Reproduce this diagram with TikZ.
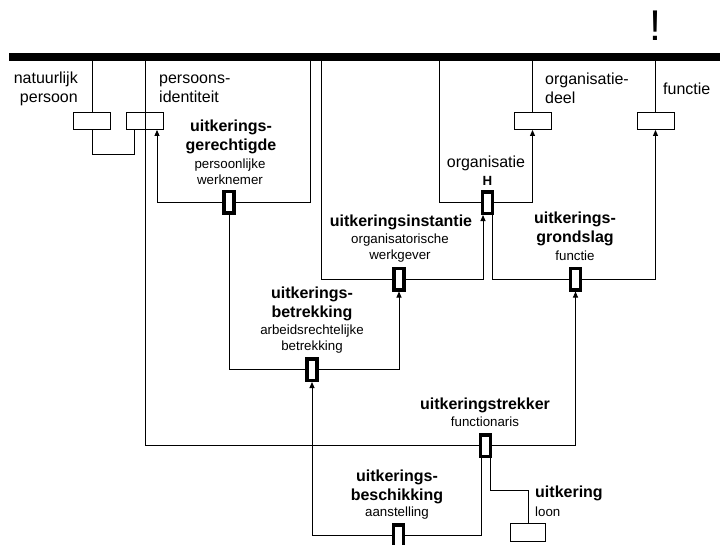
\documentclass[tikz,border=0pt]{standalone}
\usepackage{fontspec}
\setmainfont{Liberation Sans}
\usetikzlibrary{arrows.meta,backgrounds}
\begin{document}
\begin{tikzpicture}[x=1pt,y=-1pt,
  link/.style={line width=0.9pt},
  tolink/.style={link,-{Triangle[length=6pt,width=5pt]}},
  objbox/.style={draw,line width=0.9pt,minimum width=37pt,minimum height=17pt,inner sep=0},
  relbox/.style={draw,fill=white,line width=3.5pt,minimum width=9.8pt,minimum height=21.5pt,inner sep=0},
  lbl/.style={font=\fontsize{16}{19}\selectfont,inner sep=0},
  ttl/.style={font=\fontsize{16}{19}\selectfont\bfseries,align=center,inner sep=0},
  sub/.style={font=\fontsize{13.3}{15.7}\selectfont,align=center,inner sep=0}]
\useasboundingbox (0,0) rectangle (720,544);

% the thick bar at the top
\node[fill=black,inner sep=0,minimum width=711pt,minimum height=8pt,anchor=north west] (bar) at (9,53) {};

% object boxes
\node[objbox] (np) at (92,121) {};
\node[objbox] (pi) at (145,121) {};
\node[objbox] (od) at (532.5,121) {};
\node[objbox] (fu) at (655.5,121) {};
\node[objbox,minimum width=35pt,minimum height=18pt] (lo) at (528,532.5) {};

% relation boxes
\node[relbox] (ger) at (229,202) {};
\node[relbox] (org) at (487.5,202.5) {};
\node[relbox] (ins) at (399,279) {};
\node[relbox] (gro) at (575.5,279) {};
\node[relbox] (bet) at (312,369.5) {};
\node[relbox] (tre) at (485.5,445.5) {};
\node[relbox] (bes) at (398.5,535.5) {};

% corner points of the connectors
\coordinate (gR) at (310,202);
\coordinate (gL) at (157,202);
\coordinate (iL) at (321,279);
\coordinate (oL) at (439,202.5);

\begin{scope}[on background layer]
  % natuurlijk persoon
  \draw[link] (np |- bar.south) -- (np.north);
  \draw[link] (np.south) -- ++(0,24) -| ([xshift=-11pt]pi.south);
  % persoons-identiteit, running on to uitkeringsgrondslag
  \draw[tolink] (pi |- bar.south) -- (pi |- tre) -- (gro |- tre) -- (gro.south);
  % uitkeringsgerechtigde
  \draw[tolink] (gR |- bar.south) -- (gR) -- (gL) -- (gL |- pi.south);
  \draw[tolink] (ger.south) -- (ger |- bet) -- (ins |- bet) -- (ins.south);
  % uitkeringsinstantie
  \draw[tolink] (iL |- bar.south) -- (iL) -- ([xshift=-4.5pt]org.south |- ins) -- ([xshift=-4.5pt]org.south);
  % organisatie
  \draw[tolink] (oL |- bar.south) -- (oL) -- (od |- org) -- (od.south);
  \draw[link] (od |- bar.south) -- (od.north);
  % uitkeringsgrondslag
  \draw[tolink] ([xshift=4.5pt]org.south) -- ([xshift=4.5pt]org.south |- gro) -- (fu |- gro) -- (fu.south);
  \draw[link] (fu |- bar.south) -- (fu.north);
  % uitkeringsbeschikking
  \draw[tolink] ([xshift=-4.5pt]tre.south) -- ([xshift=-4.5pt]tre.south |- bes) -- (bet |- bes) -- (bet.south);
  % uitkering
  \draw[link] ([xshift=5pt]tre.south) -- ++(0,32) -| (lo.north);
\end{scope}

% labels
\node[lbl,align=right,anchor=east] (tNP) at (78,88.5) {natuurlijk\\persoon};
\node[lbl,align=left,anchor=west] (tPI) at (159,88.5) {persoons-\\identiteit};
\node[lbl,align=left,anchor=west] (tOD) at (545,88.5) {organisatie-\\deel};
\node[lbl,anchor=west] (tFU) at (663,89) {functie};
\node[font=\fontsize{43}{43}\selectfont,inner sep=0] (mark) at (655.5,25.5) {!};

\node[lbl] (tORG) at (486,163) {organisatie};
\node[font=\fontsize{13.3}{15.7}\selectfont\bfseries,inner sep=0] (tH) at (487.5,180.5) {H};

\node[ttl] (tGer) at (231,136.5) {uitkerings-\\gerechtigde};
\node[sub] (sGer) at (230,171.5) {persoonlijke\\werknemer};

\node[ttl] (tIns) at (401,222) {uitkeringsinstantie};
\node[sub] (sIns) at (400,248) {organisatorische\\werkgever};

\node[ttl] (tBet) at (312,304) {uitkerings-\\betrekking};
\node[sub] (sBet) at (312,339) {arbeidsrechtelijke\\betrekking};

\node[ttl] (tGro) at (575,229) {uitkerings-\\grondslag};
\node[sub] (sGro) at (575,256) {functie};

\node[ttl] (tTre) at (485,405) {uitkeringstrekker};
\node[sub] (sTre) at (485,422) {functionaris};

\node[ttl] (tBes) at (397,486.5) {uitkerings-\\beschikking};
\node[sub] (sBes) at (397,513) {aanstelling};

\node[ttl,anchor=west] (tUit) at (535,493) {uitkering};
\node[sub,anchor=west] (sUit) at (535,512) {loon};
\end{tikzpicture}
\end{document}
